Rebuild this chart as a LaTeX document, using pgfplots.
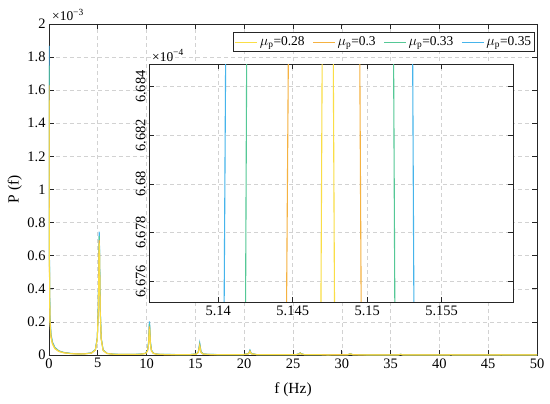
\documentclass[border=0pt]{standalone}
\usepackage{fontspec}
\setmainfont{Liberation Serif}
\usepackage{pgfplots}
\usepackage{pgfplotstable}
\pgfplotsset{compat=1.18}
\definecolor{c28}{RGB}{250,222,70}
\definecolor{c30}{RGB}{245,178,65}
\definecolor{c33}{RGB}{85,200,150}
\definecolor{c35}{RGB}{70,180,235}
\definecolor{axc}{RGB}{38,38,38}
\definecolor{gridc}{RGB}{210,210,210}

\pgfplotstableread{
f       y28     y30     y33     y35
0       1.54    1.63    1.75    1.87
0.03    0.78    0.83    0.89    0.95
0.06    0.345   0.365   0.39    0.42
0.1     0.197   0.209   0.223   0.24
0.2     0.107   0.113   0.121   0.13
0.35    0.066   0.07    0.074   0.08
0.6     0.038   0.04    0.043   0.046
1       0.0213  0.0226  0.024   0.026
1.5     0.0131  0.0139  0.015   0.016
2.2     0.0082  0.0087  0.0093  0.010
3       0.0057  0.0061  0.0065  0.007
3.65    0.0066  0.007   0.0075  0.008
4.35    0.011   0.0115  0.012   0.013
4.75    0.029   0.030   0.031   0.033
4.95    0.097   0.099   0.103   0.107
5.05    0.266   0.273   0.284   0.294
5.09    0.434   0.446   0.463   0.479
5.117   0.593   0.609   0.632   0.654
5.147   0.676   0.694   0.72    0.745
5.177   0.591   0.607   0.63    0.652
5.207   0.432   0.444   0.461   0.477
5.247   0.264   0.271   0.282   0.292
5.347   0.095   0.097   0.101   0.105
5.547   0.027   0.028   0.029   0.031
5.947   0.0085  0.009   0.0095  0.010
6.65    0.0042  0.0044  0.0047  0.005
7.5     0.0033  0.0035  0.0038  0.004
8.5     0.0033  0.0035  0.0038  0.004
9.3     0.0042  0.0045  0.0047  0.005
9.9     0.0087  0.0093  0.0098  0.011
10.1    0.024   0.026   0.028   0.031
10.2    0.063   0.069   0.075   0.081
10.24   0.102   0.112   0.121   0.131
10.264  0.139   0.152   0.165   0.178
10.294  0.158   0.173   0.188   0.203
10.324  0.139   0.152   0.165   0.178
10.354  0.102   0.112   0.121   0.131
10.394  0.063   0.069   0.075   0.081
10.494  0.024   0.026   0.028   0.031
10.7    0.0087  0.0093  0.0098  0.011
11.1    0.0042  0.0045  0.0047  0.005
11.8    0.0029  0.003   0.0033  0.0035
13      0.0025  0.0026  0.0028  0.003
14.5    0.0025  0.0026  0.0028  0.003
15.1    0.005   0.0055  0.006   0.0065
15.3    0.0148  0.0165  0.018   0.020
15.39   0.0385  0.0435  0.049   0.053
15.441  0.0525  0.0595  0.067   0.073
15.49   0.0385  0.0435  0.049   0.053
15.58   0.0148  0.0165  0.018   0.020
15.8    0.005   0.0055  0.006   0.0065
16.4    0.003   0.0031  0.0033  0.0035
18      0.0021  0.0022  0.0024  0.0025
19.9    0.0022  0.0023  0.0024  0.0025
20.45   0.0067  0.0074  0.0082  0.009
20.54   0.0157  0.0178  0.020   0.022
20.588  0.021   0.024   0.027   0.030
20.64   0.0157  0.0178  0.020   0.022
20.73   0.0067  0.0074  0.0082  0.009
21.3    0.0022  0.0023  0.0024  0.0025
23.5    0.0017  0.0018  0.0019  0.002
25.3    0.0019  0.002   0.0021  0.0022
25.65   0.006   0.0065  0.007   0.0075
25.735  0.0105  0.0115  0.0125  0.0135
25.82   0.006   0.0065  0.007   0.0075
26.2    0.0019  0.002   0.0021  0.0022
28.5    0.0014  0.0015  0.0015  0.0016
30.6    0.0015  0.0016  0.0017  0.0018
30.882  0.006   0.0065  0.007   0.0075
31.15   0.0015  0.0016  0.0017  0.0018
33.5    0.0012  0.0012  0.0013  0.0013
35.8    0.0012  0.0013  0.0013  0.0014
36.03   0.0037  0.004   0.0042  0.0045
36.25   0.0012  0.0013  0.0013  0.0014
38.5    0.001   0.001   0.0011  0.0011
41      0.001   0.001   0.0011  0.0011
41.18   0.0024  0.0026  0.0028  0.003
41.35   0.001   0.001   0.0011  0.0011
44      0.0008  0.0008  0.0009  0.0009
46.2    0.0008  0.0008  0.0009  0.0009
46.32   0.0018  0.0019  0.002   0.0022
46.45   0.0008  0.0008  0.0009  0.0009
50      0.0007  0.0007  0.0007  0.0007
}\maindata

\pgfplotsset{
  mystyle/.style={
    scale only axis,
    axis line style={axc, line width=0.8bp},
    tick style={axc, line width=0.7bp},
    major tick length=5bp,
    tick align=inside,
    xtick pos=both, ytick pos=both,
    xticklabel pos=bottom, yticklabel pos=left,
    grid=major,
    major grid style={gridc, line width=0.6bp, dash pattern=on 4bp off 3bp},
    tick label style={font=\fontsize{14.5}{16}\selectfont, text=black},
    /pgf/number format/assume math mode=true,
    xticklabel={\pgfmathprintnumber{\tick}},
    yticklabel={\pgfmathprintnumber{\tick}},
    scaled ticks=false,
  }
}

\begin{document}
\begin{tikzpicture}
\useasboundingbox (-49bp,-49bp) rectangle (501bp,355bp);
\begin{axis}[mystyle, name=main,
  width=488bp, height=331bp,
  xmin=0, xmax=50, ymin=0, ymax=2,
  xtick={0,5,10,15,20,25,30,35,40,45,50},
  ytick={0,0.2,0.4,0.6,0.8,1,1.2,1.4,1.6,1.8,2},
  xlabel={f (Hz)}, ylabel={P (f)},
  label style={font=\fontsize{15.5}{17}\selectfont},
  xlabel style={at={(axis description cs:0.5,-0.106)}, anchor=center},
  ylabel style={at={(axis description cs:-0.07,0.5)}, anchor=center},
  legend columns=4,
  legend cell align=left,
  legend style={at={(0.996,0.976)}, anchor=north east, draw=axc, line width=0.7bp,
    fill=white, font=\fontsize{13.5}{15.5}\selectfont, inner xsep=1.5bp, inner ysep=2.5bp,
    /tikz/every even column/.append style={column sep=6bp}},
  legend image code/.code={\draw[#1] (0bp,0bp) -- (22bp,0bp);},
]
\addplot[c35, line width=1bp, forget plot] table[x=f, y=y35] {\maindata};
\addplot[c33, line width=1bp, forget plot] table[x=f, y=y33] {\maindata};
\addplot[c30, line width=1bp, forget plot] table[x=f, y=y30] {\maindata};
\addplot[c28, line width=1bp, forget plot] table[x=f, y=y28] {\maindata};
\addlegendimage{c28, line width=1bp}
\addlegendentry{$\mu_{\mathrm{p}}$=0.28}
\addlegendimage{c30, line width=1bp}
\addlegendentry{$\mu_{\mathrm{p}}$=0.3}
\addlegendimage{c33, line width=1bp}
\addlegendentry{$\mu_{\mathrm{p}}$=0.33}
\addlegendimage{c35, line width=1bp}
\addlegendentry{$\mu_{\mathrm{p}}$=0.35}
\end{axis}
\node[anchor=base west, font=\fontsize{13.5}{15}\selectfont, inner sep=0pt] at ([xshift=3bp, yshift=3bp]main.north west) {×10\textsuperscript{−3}};

\begin{axis}[mystyle, name=inset,
  at={(100bp,53bp)}, anchor=south west,
  width=364bp, height=238bp,
  axis background/.style={fill=white},
  xmin=5.13535, xmax=5.15979, ymin=6.67515, ymax=6.68493,
  xtick={5.14,5.145,5.15,5.155},
  ytick={6.676,6.678,6.68,6.682,6.684},
  xticklabel style={/pgf/number format/fixed, /pgf/number format/precision=3},
  yticklabel style={/pgf/number format/fixed, /pgf/number format/precision=3, rotate=90, anchor=south},
]
\addplot[c35, line width=1.1bp] coordinates {(5.14039,6.6745) (5.14050,6.6855) (5.15305,6.6855) (5.15314,6.6745)};
\addplot[c33, line width=1.1bp] coordinates {(5.14183,6.6745) (5.14191,6.6855) (5.15177,6.6855) (5.15186,6.6745)};
\addplot[c30, line width=1.1bp] coordinates {(5.14458,6.6745) (5.14471,6.6855) (5.14950,6.6855) (5.14960,6.6745)};
\addplot[c28, line width=1.1bp] coordinates {(5.14689,6.6745) (5.14698,6.6855) (5.14772,6.6855) (5.14781,6.6745)};
\end{axis}
\node[anchor=base west, font=\fontsize{13.5}{15}\selectfont, inner sep=0pt] at ([xshift=3bp, yshift=3bp]inset.north west) {×10\textsuperscript{−4}};
\end{tikzpicture}
\end{document}
